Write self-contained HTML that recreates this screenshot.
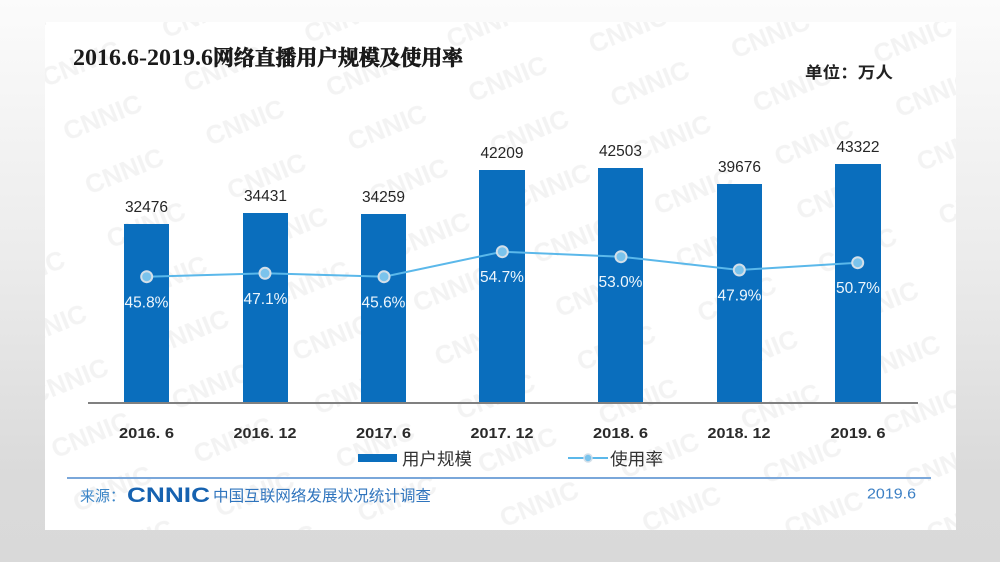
<!DOCTYPE html>
<html>
<head>
<meta charset="utf-8">
<style>
html,body{margin:0;padding:0;}
body{width:1000px;height:562px;overflow:hidden;background:linear-gradient(to bottom,#fbfbfb 0%,#ececec 45%,#dadada 85%,#d9d9d9 100%);}
svg{display:block;}
</style>
</head>
<body>
<svg width="1000" height="562" viewBox="0 0 1000 562" xmlns="http://www.w3.org/2000/svg">
  <defs>
    <pattern id="wm" width="130" height="58" patternUnits="userSpaceOnUse" patternTransform="rotate(-22)">
      <text x="10" y="40" font-family="Liberation Sans, sans-serif" font-weight="bold" font-size="26" fill="#f3f3f3">CNNIC</text>
    </pattern>
  </defs>
  <!-- card -->
  <rect x="45" y="22" width="911" height="508" fill="#ffffff"/>
  <rect x="45" y="22" width="911" height="508" fill="url(#wm)"/>

  <!-- title -->
  <text x="73" y="65" font-family="Liberation Serif, 'Noto Serif CJK SC', serif" font-weight="bold" font-size="23" fill="#1a1a1a" textLength="140" lengthAdjust="spacingAndGlyphs">2016.6-2019.6</text>
  <text x="213" y="65" font-family="'Noto Serif CJK SC', serif" font-weight="bold" font-size="21" fill="#1a1a1a" stroke="#1a1a1a" stroke-width="0.7" textLength="250" lengthAdjust="spacingAndGlyphs">网络直播用户规模及使用率</text>

  <text x="805" y="78" font-family="Liberation Sans, 'Noto Sans CJK SC', sans-serif" font-weight="bold" font-size="16" fill="#222" textLength="88" lengthAdjust="spacingAndGlyphs">单位：万人</text>

  <!-- bars -->
  <g fill="#0a6ebd">
    <rect x="124" y="224" width="45" height="179"/>
    <rect x="243" y="213" width="45" height="190"/>
    <rect x="361" y="214" width="45" height="189"/>
    <rect x="479" y="170" width="46" height="233"/>
    <rect x="598" y="168" width="45" height="235"/>
    <rect x="717" y="184" width="45" height="219"/>
    <rect x="835" y="164" width="46" height="239"/>
  </g>

  <!-- value labels -->
  <g font-family="Liberation Sans, sans-serif" font-size="15.5" fill="#262626" text-anchor="middle">
    <text x="146.5" y="212">32476</text>
    <text x="265.5" y="201">34431</text>
    <text x="383.5" y="202">34259</text>
    <text x="502" y="158">42209</text>
    <text x="620.5" y="156">42503</text>
    <text x="739.5" y="172">39676</text>
    <text x="858" y="152">43322</text>
  </g>

  <!-- axis -->
  <line x1="88" y1="403" x2="918" y2="403" stroke="#808080" stroke-width="2"/>

  <!-- line series -->
  <polyline points="146.7,276.7 265,273.3 384,276.7 502.3,251.7 621,256.7 739.3,270 857.7,262.7" fill="none" stroke="#5bb8ea" stroke-width="2"/>
  <g fill="#7ac3ec" stroke="#d3dfe9" stroke-width="2">
    <circle cx="146.7" cy="276.7" r="5.5"/>
    <circle cx="265" cy="273.3" r="5.5"/>
    <circle cx="384" cy="276.7" r="5.5"/>
    <circle cx="502.3" cy="251.7" r="5.5"/>
    <circle cx="621" cy="256.7" r="5.5"/>
    <circle cx="739.3" cy="270" r="5.5"/>
    <circle cx="857.7" cy="262.7" r="5.5"/>
  </g>

  <!-- percent labels -->
  <g font-family="Liberation Sans, sans-serif" font-size="15.5" fill="#eef6fc" text-anchor="middle">
    <text x="146.5" y="307.5">45.8%</text>
    <text x="265.5" y="304">47.1%</text>
    <text x="383.5" y="307.5">45.6%</text>
    <text x="502" y="282">54.7%</text>
    <text x="620.5" y="287">53.0%</text>
    <text x="739.5" y="300.5">47.9%</text>
    <text x="858" y="293">50.7%</text>
  </g>

  <!-- x labels -->
  <g font-family="Liberation Sans, sans-serif" font-size="15" fill="#2a2a2a" text-anchor="middle" font-weight="bold">
    <text x="146.5" y="438" textLength="55" lengthAdjust="spacingAndGlyphs">2016. 6</text>
    <text x="265" y="438" textLength="63" lengthAdjust="spacingAndGlyphs">2016. 12</text>
    <text x="383.5" y="438" textLength="55" lengthAdjust="spacingAndGlyphs">2017. 6</text>
    <text x="502" y="438" textLength="63" lengthAdjust="spacingAndGlyphs">2017. 12</text>
    <text x="620.5" y="438" textLength="55" lengthAdjust="spacingAndGlyphs">2018. 6</text>
    <text x="739" y="438" textLength="63" lengthAdjust="spacingAndGlyphs">2018. 12</text>
    <text x="858" y="438" textLength="55" lengthAdjust="spacingAndGlyphs">2019. 6</text>
  </g>

  <!-- legend -->
  <rect x="358" y="454" width="39" height="8" fill="#0a6ebd"/>
  <text x="402" y="465" font-family="Liberation Sans, 'Noto Sans CJK SC', sans-serif" font-size="17" fill="#333" textLength="70" lengthAdjust="spacingAndGlyphs">用户规模</text>
  <line x1="568" y1="458" x2="608" y2="458" stroke="#5bb8ea" stroke-width="2"/>
  <circle cx="588" cy="458" r="4" fill="#7ac3ec" stroke="#d3dfe9" stroke-width="1.5"/>
  <text x="610" y="465" font-family="Liberation Sans, 'Noto Sans CJK SC', sans-serif" font-size="17" fill="#333" textLength="53" lengthAdjust="spacingAndGlyphs">使用率</text>

  <!-- footer -->
  <line x1="67" y1="478" x2="931" y2="478" stroke="#7aa7da" stroke-width="2"/>
  <text x="80" y="501" font-family="Liberation Sans, 'Noto Sans CJK SC', sans-serif" font-size="15" fill="#3c86c8" textLength="45" lengthAdjust="spacingAndGlyphs">来源：</text>
  <text x="127" y="502" font-family="Liberation Sans, sans-serif" font-weight="bold" font-size="21" fill="#1662b0" textLength="83" lengthAdjust="spacingAndGlyphs">CNNIC</text>
  <text x="213" y="501" font-family="Liberation Sans, 'Noto Sans CJK SC', sans-serif" font-size="15.5" fill="#2f74bd" textLength="218" lengthAdjust="spacingAndGlyphs">中国互联网络发展状况统计调查</text>
  <text x="867" y="498.5" font-family="Liberation Sans, sans-serif" font-size="14.5" fill="#3b7fc4" textLength="49" lengthAdjust="spacingAndGlyphs">2019.6</text>
</svg>
</body>
</html>
